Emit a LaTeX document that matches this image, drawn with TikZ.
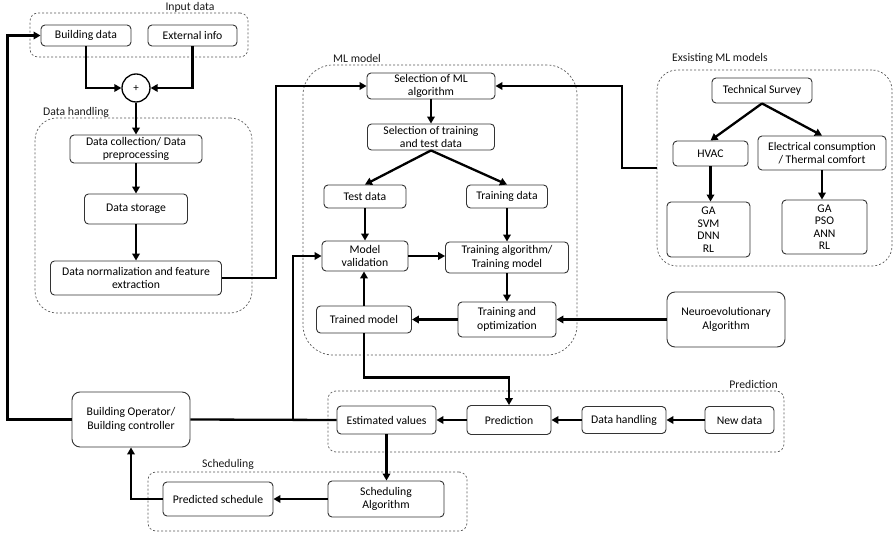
\documentclass[tikz,border=0pt]{standalone}
\usepackage{fontspec}
\setmainfont{Carlito}
\usetikzlibrary{arrows.meta,positioning}
\tikzset{
  bx/.style={draw=black!80, rounded corners=4pt, line width=0.9pt, align=center, inner sep=1pt,
    font=\fontsize{11.7}{13.5}\selectfont, text=black},
  bigbx/.style={bx, rounded corners=8pt},
  grp/.style={draw=black!65, dashed, dash pattern=on 2pt off 2pt, line width=0.7pt, inner sep=0pt},
  lbl/.style={font=\fontsize{11.7}{13.5}\selectfont, text=black!90, inner sep=0pt},
  arr/.style={line width=2.3pt, -{Triangle[length=7pt,width=7.5pt]}},
  ln/.style={line width=2.3pt},
}
\begin{document}
\begin{tikzpicture}[x=1pt,y=-1pt]
\useasboundingbox (0,0) rectangle (894,534);
% groups
\node[grp, rounded corners=8pt, minimum width=218, minimum height=44] (gIn) at (139,35) {};
\node[grp, rounded corners=22pt, minimum width=217, minimum height=195] (gDH) at (143.5,215.5) {};
\node[grp, rounded corners=30pt, minimum width=274, minimum height=290] (gML) at (440,210) {};
\node[grp, rounded corners=20pt, minimum width=235, minimum height=196] (gEx) at (774.5,168) {};
\node[grp, rounded corners=8pt, minimum width=456, minimum height=61] (gPr) at (556,421.5) {};
\node[grp, rounded corners=8pt, minimum width=319, minimum height=59] (gSc) at (307.5,501.5) {};
% group labels
\node[lbl] (lIn) at (190,7) {Input data};
\node[lbl, anchor=west] (lDH) at (43,112) {Data handling};
\node[lbl, anchor=west] (lML) at (333,58) {ML model};
\node[lbl, anchor=west] (lEx) at (672,58) {Exsisting ML models};
\node[lbl, anchor=east] (lPr) at (778,384) {Prediction};
\node[lbl, anchor=west] (lSc) at (202,464) {Scheduling};
% input
\node[bx, minimum width=90, minimum height=21] (bd) at (86,35.5) {Building data};
\node[bx, minimum width=89, minimum height=21] (ei) at (192.5,35.5) {External info};
\node[draw=black, line width=1.3pt, circle, minimum size=28, inner sep=0pt,
  font=\fontsize{11}{12}\selectfont] (plus) at (136,88) {+};
% data handling
\node[bx, minimum width=132, minimum height=28] (dc) at (136,149) {Data collection/ Data\\preprocessing};
\node[bx, minimum width=103, minimum height=30] (ds) at (136,209) {Data storage};
\node[bx, minimum width=171, minimum height=34] (dn) at (136,278) {Data normalization and feature\\extraction};
% ML model
\node[bx, minimum width=128, minimum height=26] (sml) at (431,86) {Selection of ML\\algorithm};
\node[bx, minimum width=127, minimum height=26] (stt) at (431,137) {Selection of training\\and test data};
\node[bx, minimum width=82, minimum height=23] (td) at (365,196.5) {Test data};
\node[bx, minimum width=81, minimum height=23] (trd) at (507,196.5) {Training data};
\node[bx, minimum width=86, minimum height=30] (mv) at (365,256) {Model\\validation};
\node[bx, minimum width=123, minimum height=31] (ta) at (507,257.5) {Training algorithm/\\Training model};
\node[bx, minimum width=98, minimum height=35] (to) at (507,319.5) {Training and\\optimization};
\node[bx, minimum width=95, minimum height=27] (tm) at (364,319.5) {Trained model};
\node[bigbx, minimum width=118, minimum height=55] (na) at (726,319.5) {Neuroevolutionary\\Algorithm};
% existing
\node[bx, minimum width=100, minimum height=25] (ts) at (762,90.5) {Technical Survey};
\node[bx, minimum width=75, minimum height=25] (hvac) at (710.5,153.5) {HVAC};
\node[bx, minimum width=128, minimum height=34] (el) at (822,153) {Electrical consumption\\/ Thermal comfort};
\node[bx, minimum width=83, minimum height=55, font=\fontsize{11.7}{12.5}\selectfont] (m1) at (708.5,229.5) {GA\\SVM\\DNN\\RL};
\node[bx, minimum width=85, minimum height=54, font=\fontsize{11.7}{12.5}\selectfont] (m2) at (824.5,227) {GA\\PSO\\ANN\\RL};
% prediction
\node[bigbx, minimum width=118, minimum height=55] (bo) at (131,419.5) {Building Operator/\\Building controller};
\node[bx, minimum width=99, minimum height=28] (ev) at (386.5,420) {Estimated values};
\node[bx, minimum width=84, minimum height=29] (pr) at (509,420) {Prediction};
\node[bx, minimum width=84, minimum height=27] (dh) at (624,420) {Data handling};
\node[bx, minimum width=69, minimum height=27] (nd) at (739.5,420) {New data};
% scheduling
\node[bx, minimum width=110, minimum height=34] (ps) at (218,499) {Predicted schedule};
\node[bx, minimum width=116, minimum height=36] (sa) at (386,499) {Scheduling\\Algorithm};
\coordinate (j) at (293,420);
% connectors
\draw[arr] (bd.south) |- (plus.west);
\draw[arr] (ei.south) |- (plus.east);
\draw[arr] (plus.south) -- (dc.north);
\draw[arr] (dc.south) -- (ds.north);
\draw[arr] (ds.south) -- (dn.north);
\draw[arr] (dn.east) -- ++(54,0) |- (sml.west);
\draw[arr] (sml.south) -- (stt.north);
\draw[arr] (stt.south) -- (td.north);
\draw[arr] (stt.south) -- (trd.north);
\draw[arr] (td.south) -- (mv.north);
\draw[arr] (trd.south) -- (ta.north);
\draw[arr] (mv.east) -- (mv.east -| ta.west);
\draw[arr] (ta.south) -- (to.north);
\draw[arr] (to.west) -- (tm.east);
\draw[arr] (tm.north) -- (tm.north |- mv.south);
\draw[arr] (tm.south) -- ++(0,44) -| (pr.north);
\draw[arr] (na.west) -- (to.east);
\draw[arr] (ts.south) -- (hvac.north);
\draw[arr] (ts.south) -- (el.north);
\draw[arr] (hvac.south) -- (hvac.south |- m1.north);
\draw[arr] (el.south) -- (el.south |- m2.north);
\draw[arr] (gEx.west) -- ++(-35,0) |- (sml.east);
\draw[arr] (nd.west) -- (dh.east);
\draw[arr] (dh.west) -- (pr.east);
\draw[arr] (pr.west) -- (ev.east);
\draw[arr] (ev.south) -- (ev.south |- sa.north);
\draw[arr] (sa.west) -- (ps.east);
\draw[arr] (ps.west) -| (bo.south);
\draw[ln] (ev.west) -- (bo.east);
\draw[arr] (j) |- (mv.west);
\draw[arr] (bo.west) -- ++(-64,0) |- (bd.west);
\end{tikzpicture}
\end{document}
